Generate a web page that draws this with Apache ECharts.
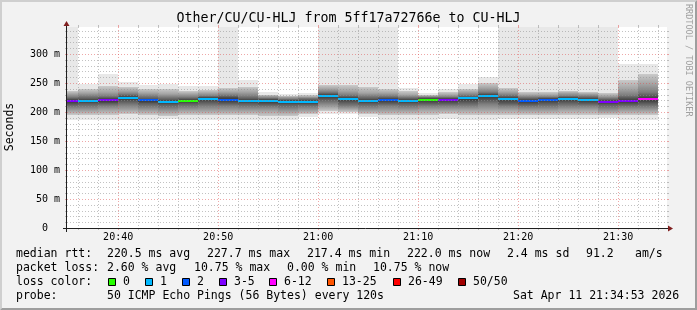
<!DOCTYPE html>
<html>
<head>
<meta charset="utf-8">
<title>Other/CU/CU-HLJ</title>
<script src="https://cdn.jsdelivr.net/npm/echarts@6.0.0/dist/echarts.min.js"></script>
<style>
html,body{margin:0;padding:0;background:#f2f2f2;}
#chart{width:697px;height:310px;}
</style>
</head>
<body>
<div id="chart"></div>
<script>
// ---------------- data ----------------
const stepStarts = ['20:34','20:36','20:38','20:40','20:42','20:44','20:46','20:48','20:50','20:52',
                    '20:54','20:56','20:58','21:00','21:02','21:04','21:06','21:08','21:10','21:12',
                    '21:14','21:16','21:18','21:20','21:22','21:24','21:26','21:28','21:30','21:32'];
const stepMinutes = 2;
const pingsPerStep = 50;
const viewStart = '20:34:53';
const viewEnd = '21:34:53';
const xTickLabels = ['20:40','20:50','21:00','21:10','21:20','21:30'];
const yTickValues = [0,50,100,150,200,250,300];
const yMinorValues = [10,20,30,40,60,70,80,90,110,120,130,140,160,170,180,190,210,220,230,240,260,270,280,290,310,320,330,340];
const yMax = 346.5;

// sorted ping ranks (ms) per step
const ping01 = [186,187,186,186,187,188,187,186,186,186,187,187,191,196,196,191,187,187,187,188,187,187,188,188,188,188,188,189,187,187];
const ping05 = [194,195,195,196,195,193,195,194,194,194,193,193,196,202,200,196,194,195,195,196,195,195,195,194,195,195,195,194,194,195];
const ping10 = [201,202,203,204,202,200,202,202,202,201,201,200,202,209,205,202,202,202,203,203,203,204,203,201,202,203,203,200,201,202];
const ping15 = [208,209,210,212,209,207,209,210,210,208,208,207,208,216,211,209,210,209,210,210,211,213,210,208,209,210,210,207,208,209];
const ping20 = [214,215,216,219,215,213,215,217,216,215,214,213,213,222,217,215,216,215,216,216,218,221,216,214,215,217,216,213,214,216];
const ping23 = [216.5,217,218,222,218,215.5,217.5,220,219.5,217.5,217,216,216,225,220,217.5,219.5,217.5,219,219,221.5,225,220,217,218.5,220.5,219.5,216,217,219.5];
const median = [218.5,218.8,220.0,224.0,219.8,217.4,219.5,222.0,221.5,219.5,219.0,218.0,217.8,227.0,222.0,219.5,221.5,219.5,221.0,221.0,223.5,227.7,222.0,219.2,220.5,222.5,221.5,218.0,219.0,222.0];
const ping28 = [220.5,221,222,226,221.5,219.5,221,224,223.5,221.5,220.5,219.5,219.5,229,224,221.5,223,221,222.5,222.5,225,229.5,224,221,222,224,223,219.5,221,224];
const ping31 = [222,223,224,228,223,221,222.5,225.5,225,223,222,221,221,230.5,226,223,224.5,222.5,223.5,224,226.5,231.5,225.5,222.5,223.5,225.5,224.5,221,224,228];
const ping36 = [226,227,228,231,227,225,226,228,229,227,224.5,223,223.5,234,230,227,228,226,225.5,226.5,229.5,235,229,226,226,228,227,224,230,235];
const ping41 = [231,232,235,236,232,231,231,233,234,234,227,225.5,226,239,237,233,233,230,227.5,229.5,234,241,235,230,230,232,231,228,240,248];
const ping46 = [236,240,245,243,239,239,237,238,242,243,230,228,229.5,246,247,243,240,236,229.5,234,240,250,241,235,234,236,235,233,255,265];
const ping50 = [395,249,265,252,246,248,244,244,410,255,234,231,233,420,388,402,399,242,232,240,248,261,405,398,415,392,401,396,282,282];
const lossPct = [6.5,1.2,5.5,1.0,3.0,1.5,0,1.0,3.5,1.3,0.8,1.0,1.2,1.8,1.5,1.0,2.8,1.2,0,6.0,1.0,1.5,1.8,3.2,3.0,1.2,1.5,7.0,8.0,10.75];

const lossBuckets = [
  {max:0,  label:'0',     color:'#26ff00'},
  {max:1,  label:'1',     color:'#00b8ff'},
  {max:2,  label:'2',     color:'#0059ff'},
  {max:5,  label:'3-5',   color:'#7e00ff'},
  {max:12, label:'6-12',  color:'#ff00ff'},
  {max:25, label:'13-25', color:'#ff5500'},
  {max:49, label:'26-49', color:'#ff0000'},
  {max:50, label:'50/50', color:'#a10000'}
];

// ---------------- helpers ----------------
function toMin(s){ const p = s.split(':').map(Number); return (p[0]-20)*60 + p[1] + (p[2]||0)/60; }
function fmtMin(m){ const r = Math.round(m); const h = 20 + Math.floor(r/60); return h + ':' + String(r%60).padStart(2,'0'); }
function lossColor(pct){ const n = pct*pingsPerStep/100; for (const b of lossBuckets) if (n <= b.max) return b.color; return lossBuckets[lossBuckets.length-1].color; }
function smokeGrey(ibot){ const half = pingsPerStep/2; const c = Math.floor(190/half*(half-ibot))+50; const h = c.toString(16).padStart(2,'0'); return '#'+h+h+h; }
function grad(a,b){ return {type:'linear', x:0, y:0, x2:0, y2:1, global:false, colorStops:[{offset:0,color:a},{offset:1,color:b}]}; }

const tMin = toMin(viewStart), tMax = toMin(viewEnd);
const ranks = [1,5,10,15,20,23];
const greys = ranks.map(smokeGrey);
const gridTimes = stepStarts.slice(1).map(toMin).concat([toMin(stepStarts[stepStarts.length-1]) + stepMinutes]);
const majorTimes = xTickLabels.map(toMin);

function renderSmoke(params, api){
  const i = params.dataIndex;
  const cs = params.coordSys;
  const t0 = api.value(0);
  const X = t => Math.round(Math.min(cs.x+cs.width, Math.max(cs.x, api.coord([t,0])[0])));
  const Y = v => Math.round(Math.min(cs.y+cs.height, Math.max(cs.y, api.coord([t0,v])[1])));
  const x0 = X(t0), x1 = X(t0 + stepMinutes);
  if (x1 <= x0) return null;
  const upper = [ping50[i], ping46[i], ping41[i], ping36[i], ping31[i], ping28[i]];
  const lower = [ping01[i], ping05[i], ping10[i], ping15[i], ping20[i], ping23[i]];
  const kids = [];
  const rect = (yt, yb, fill) => { if (yb > yt) kids.push({type:'rect', shape:{x:x0, y:yt, width:x1-x0, height:yb-yt}, style:{fill:fill}}); };
  rect(Y(upper[0]), Y(lower[0]), greys[0]);
  for (let k = 1; k < 5; k++){
    rect(Y(upper[k]), Y(upper[k+1]), grad(greys[k], greys[k+1]));
    rect(Y(lower[k+1]), Y(lower[k]), grad(greys[k+1], greys[k]));
  }
  rect(Y(upper[5]), Y(lower[5]), greys[5]);
  const ym = Math.round(api.coord([t0, median[i]])[1]);
  kids.push({type:'rect', shape:{x:x0, y:ym-1, width:x1-x0, height:2}, style:{fill: lossColor(lossPct[i])}});
  return {type:'group', children:kids};
}

function renderGrid(params, api){
  const cs = params.coordSys;
  const L = cs.x, R = cs.x + cs.width, T = cs.y, B = cs.y + cs.height;
  const minorC = 'rgba(143,143,143,0.55)', majorC = 'rgba(222,79,79,0.5)';
  const kids = [];
  const line = (x1,y1,x2,y2,color,dash) => kids.push({type:'line', shape:{x1,y1,x2,y2}, style:{stroke:color, lineWidth:1, lineDash:dash||null}});
  const hl = (v,color) => { const y = Math.round(api.coord([tMin,v])[1]) + 0.5;
    line(L, y, R, y, color, [1,2]); line(L-2, y, L, y, color); line(R, y, R+2, y, color); };
  const vl = (t,color) => { const x = Math.round(api.coord([t,0])[0]) + 0.5;
    line(x, T, x, B, color, [1,2]); line(x, T-2, x, T, color); line(x, B, x, B+2, color); };
  yMinorValues.forEach(v => hl(v, minorC));
  gridTimes.forEach(t => { if (!majorTimes.some(m => Math.abs(m-t) < 1e-6)) vl(t, minorC); });
  yTickValues.filter(v => v > 0).forEach(v => hl(v, majorC));
  majorTimes.forEach(t => vl(t, majorC));
  // axes
  const axisC = '#1f1f1f', arrowC = '#801f1f';
  line(L-4, B+0.5, R+1, B+0.5, axisC);
  line(L-0.5, B+4, L-0.5, T-1, axisC);
  kids.push({type:'polygon', shape:{points:[[R+1,B-2.5],[R+1,B+3.5],[R+6,B+0.5]]}, style:{fill:arrowC}});
  kids.push({type:'polygon', shape:{points:[[L-3.5,T-1],[L+2.5,T-1],[L-0.5,T-6]]}, style:{fill:arrowC}});
  return {type:'group', children:kids};
}

const mono = '"DejaVu Sans Mono", "Liberation Mono", monospace';
const legendFont = '11.5px ' + mono;
function txt(text, x, y){ return {type:'text', x:x, y:y, silent:true, style:{text:text, font:legendFont, fill:'#000', verticalAlign:'middle', align:'left'}}; }

const legendGraphics = [
  txt('median rtt:', 16, 254), txt('220.5 ms avg', 107, 254), txt('227.7 ms max', 207, 254), txt('217.4 ms min', 307, 254),
  txt('222.0 ms now', 407, 254), txt('2.4 ms sd', 507, 254), txt('91.2', 586, 254), txt('am/s', 635, 254),
  txt('packet loss:', 16, 268), txt('2.60 % avg', 107, 268), txt('10.75 % max', 194, 268), txt('0.00 % min', 287, 268), txt('10.75 % now', 373, 268),
  txt('loss color:', 16, 282),
  txt('probe:', 16, 296), txt('50 ICMP Echo Pings (56 Bytes) every 120s', 107, 296), txt('Sat Apr 11 21:34:53 2026', 513, 296)
];
const boxX = [108,145,182,219,269,327,393,458];
lossBuckets.forEach((b, k) => {
  legendGraphics.push({type:'rect', silent:true, shape:{x:boxX[k]+0.5, y:278.5, width:7, height:7}, style:{fill:b.color, stroke:'#000', lineWidth:1}});
  legendGraphics.push(txt(b.label, boxX[k]+15, 282));
});
legendGraphics.push({type:'text', x:10, y:127, rotation:Math.PI/2, silent:true, style:{text:'Seconds', font:legendFont, fill:'#000', align:'center', verticalAlign:'middle'}});
legendGraphics.push({type:'text', x:688, y:4, rotation:-Math.PI/2, silent:true, style:{text:'RRDTOOL / TOBI OETIKER', font:'8.5px ' + mono, fill:'#a0a0a0', align:'left', verticalAlign:'middle'}});
// frame shades
legendGraphics.push({type:'polygon', silent:true, shape:{points:[[0,0],[697,0],[695,2],[2,2],[2,308],[0,310]]}, style:{fill:'#cfcfcf'}});
legendGraphics.push({type:'polygon', silent:true, shape:{points:[[697,310],[0,310],[2,308],[695,308],[695,2],[697,0]]}, style:{fill:'#9e9e9e'}});

const chart = echarts.init(document.getElementById('chart'), null, {renderer:'canvas'});
chart.setOption({
  animation: false,
  backgroundColor: '#f2f2f2',
  title: {
    text: 'Other/CU/CU-HLJ from 5ff17a72766e to CU-HLJ',
    left: 'center', top: 12, padding: 0,
    textStyle: {fontFamily: mono, fontSize: 13.3, fontWeight: 'normal', color: '#000'}
  },
  grid: {left: 67, right: 30, top: 27, bottom: 82, show: true, backgroundColor: '#ffffff', borderWidth: 0},
  xAxis: {
    type: 'value', min: tMin, max: tMax,
    axisLine: {show: false}, axisTick: {show: false}, splitLine: {show: false},
    axisLabel: {customValues: majorTimes, formatter: v => fmtMin(v), fontFamily: mono, fontSize: 10, color: '#000', margin: 4, lineHeight: 10}
  },
  yAxis: {
    type: 'value', min: 0, max: yMax,
    axisLine: {show: false}, axisTick: {show: false}, splitLine: {show: false},
    axisLabel: {customValues: yTickValues, formatter: v => (v === 0 ? '0  ' : v + ' m'), fontFamily: mono, fontSize: 10, color: '#000', margin: 7}
  },
  graphic: legendGraphics,
  series: [
    {type: 'custom', name: 'smoke', coordinateSystem: 'cartesian2d', z: 2, silent: true,
     renderItem: renderSmoke, data: stepStarts.map((s, i) => [toMin(s), median[i]])},
    {type: 'custom', name: 'grid', coordinateSystem: 'cartesian2d', z: 5, silent: true,
     renderItem: renderGrid, data: [[tMin, 0]]}
  ]
});
</script>
</body>
</html>
